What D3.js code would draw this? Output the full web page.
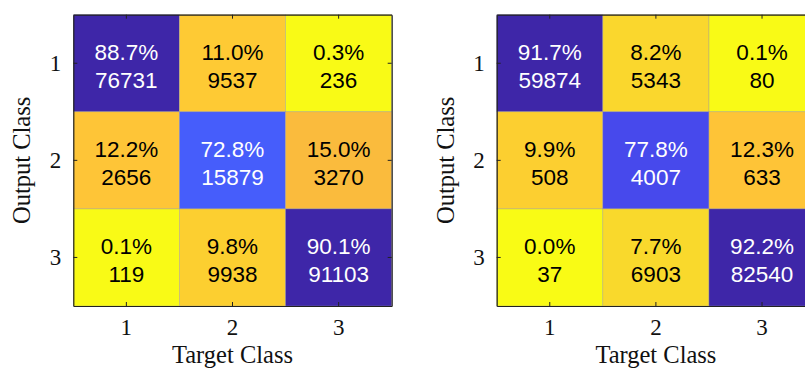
<!DOCTYPE html>
<html>
<head>
<meta charset="utf-8">
<script src="https://cdn.jsdelivr.net/npm/d3@7"></script>
<style>
  html, body { margin: 0; padding: 0; background: #fff; }
  svg { display: block; }
</style>
</head>
<body>
<svg id="chart" width="805" height="370"></svg>
<script>
// Class labels shared by both matrices
const classes = ["1", "2", "3"];

// Counts, rows = output class, columns = target class
const countsA = [
  [76731, 9537, 236],
  [2656, 15879, 3270],
  [119, 9938, 91103]
];
const countsB = [
  [59874, 5343, 80],
  [508, 4007, 633],
  [37, 6903, 82540]
];

const xTitle = "Target Class";
const yTitle = "Output Class";

// 64-step parula colormap
const parula = [
  [0.2422,0.1504,0.6603],[0.2504,0.1650,0.7076],[0.2578,0.1818,0.7511],[0.2647,0.1978,0.7952],
  [0.2706,0.2147,0.8364],[0.2751,0.2342,0.8710],[0.2783,0.2559,0.8991],[0.2803,0.2782,0.9221],
  [0.2813,0.3006,0.9414],[0.2810,0.3228,0.9579],[0.2795,0.3447,0.9717],[0.2760,0.3667,0.9829],
  [0.2699,0.3892,0.9906],[0.2602,0.4123,0.9952],[0.2440,0.4358,0.9988],[0.2206,0.4603,0.9973],
  [0.1963,0.4847,0.9892],[0.1834,0.5074,0.9798],[0.1786,0.5289,0.9682],[0.1764,0.5499,0.9520],
  [0.1687,0.5703,0.9359],[0.1540,0.5902,0.9218],[0.1460,0.6091,0.9079],[0.1380,0.6276,0.8973],
  [0.1248,0.6459,0.8883],[0.1113,0.6635,0.8763],[0.0952,0.6798,0.8598],[0.0689,0.6948,0.8394],
  [0.0297,0.7082,0.8163],[0.0036,0.7203,0.7917],[0.0067,0.7312,0.7660],[0.0433,0.7411,0.7394],
  [0.0964,0.7500,0.7120],[0.1408,0.7584,0.6842],[0.1717,0.7670,0.6554],[0.1938,0.7758,0.6251],
  [0.2161,0.7843,0.5923],[0.2470,0.7918,0.5567],[0.2906,0.7973,0.5188],[0.3406,0.8008,0.4789],
  [0.3909,0.8029,0.4354],[0.4456,0.8024,0.3909],[0.5044,0.7993,0.3480],[0.5616,0.7942,0.3045],
  [0.6174,0.7876,0.2612],[0.6720,0.7793,0.2227],[0.7242,0.7698,0.1910],[0.7738,0.7598,0.1646],
  [0.8203,0.7498,0.1535],[0.8634,0.7406,0.1596],[0.9035,0.7330,0.1774],[0.9393,0.7288,0.2100],
  [0.9728,0.7298,0.2394],[0.9956,0.7434,0.2371],[0.9970,0.7659,0.2199],[0.9952,0.7893,0.2028],
  [0.9892,0.8136,0.1885],[0.9786,0.8386,0.1766],[0.9676,0.8639,0.1643],[0.9610,0.8890,0.1537],
  [0.9597,0.9135,0.1423],[0.9628,0.9373,0.1265],[0.9691,0.9606,0.1064],[0.9769,0.9839,0.0805]
].map(c => d3.rgb(c[0] * 255, c[1] * 255, c[2] * 255).formatHex());
const interpParula = d3.piecewise(d3.interpolateRgb, parula);

const color = d3.scaleSequential(interpParula).domain([88, 0]).clamp(true);

const svg = d3.select("#chart");

const plotW = 318.4, plotH = 291.3, plotTop = 14.7;

function drawMatrix(counts, left) {
  const g = svg.append("g").attr("transform", `translate(${left},${plotTop})`);

  const x = d3.scaleBand().domain(classes).range([0, plotW]);
  const y = d3.scaleBand().domain(classes).range([0, plotH]);

  const cells = [];
  counts.forEach((row, i) => {
    const total = d3.sum(row);
    row.forEach((v, j) => {
      cells.push({ r: classes[i], c: classes[j], count: v, pct: 100 * v / total, diag: i === j });
    });
  });

  g.selectAll("rect.cell").data(cells).join("rect")
    .attr("class", "cell")
    .attr("x", d => x(d.c))
    .attr("y", d => y(d.r))
    .attr("width", x.bandwidth())
    .attr("height", y.bandwidth())
    .attr("fill", d => color(d.pct))
    .attr("stroke", "#9a9a9a")
    .attr("stroke-width", 0.6)
    .attr("stroke-opacity", 0.6);

  const txt = g.selectAll("text.val").data(cells).join("text")
    .attr("class", "val")
    .attr("text-anchor", "middle")
    .attr("font-family", "Liberation Sans, Arial, sans-serif")
    .attr("font-size", 22.5)
    .attr("fill", d => d.diag ? "#ffffff" : "#000000");
  txt.append("tspan")
    .attr("x", d => x(d.c) + x.bandwidth() / 2)
    .attr("y", d => y(d.r) + y.bandwidth() / 2 - 3.5)
    .text(d => d.pct.toFixed(1) + "%");
  txt.append("tspan")
    .attr("x", d => x(d.c) + x.bandwidth() / 2)
    .attr("y", d => y(d.r) + y.bandwidth() / 2 + 24.5)
    .text(d => d.count);

  // Box with inward ticks on all four sides
  const tickLen = 4;
  const axB = g.append("g").attr("transform", `translate(0,${plotH})`)
    .call(d3.axisBottom(x).tickSizeInner(-tickLen).tickSizeOuter(0).tickPadding(13));
  const axL = g.append("g")
    .call(d3.axisLeft(y).tickSizeInner(-tickLen).tickSizeOuter(0).tickPadding(12));
  const axT = g.append("g")
    .call(d3.axisTop(x).tickSizeInner(-tickLen).tickSizeOuter(0).tickFormat(""));
  const axR = g.append("g").attr("transform", `translate(${plotW},0)`)
    .call(d3.axisRight(y).tickSizeInner(-tickLen).tickSizeOuter(0).tickFormat(""));

  [axB, axL, axT, axR].forEach(a => {
    a.select(".domain").attr("stroke", "#222").attr("stroke-width", 1.2);
    a.selectAll(".tick line").attr("stroke", "#222");
    a.selectAll("text")
      .attr("font-family", "Liberation Serif, Times New Roman, serif")
      .attr("font-size", 23)
      .attr("fill", "#111");
  });

  g.append("text")
    .attr("x", plotW / 2)
    .attr("y", plotH + 57)
    .attr("text-anchor", "middle")
    .attr("font-family", "Liberation Serif, Times New Roman, serif")
    .attr("font-size", 24.5)
    .attr("fill", "#111")
    .text(xTitle);

  g.append("text")
    .attr("transform", `translate(-43,${plotH / 2}) rotate(-90)`)
    .attr("text-anchor", "middle")
    .attr("font-family", "Liberation Serif, Times New Roman, serif")
    .attr("font-size", 24.5)
    .attr("fill", "#111")
    .text(yTitle);
}

drawMatrix(countsA, 73.3);
drawMatrix(countsB, 496.7);
</script>
</body>
</html>
